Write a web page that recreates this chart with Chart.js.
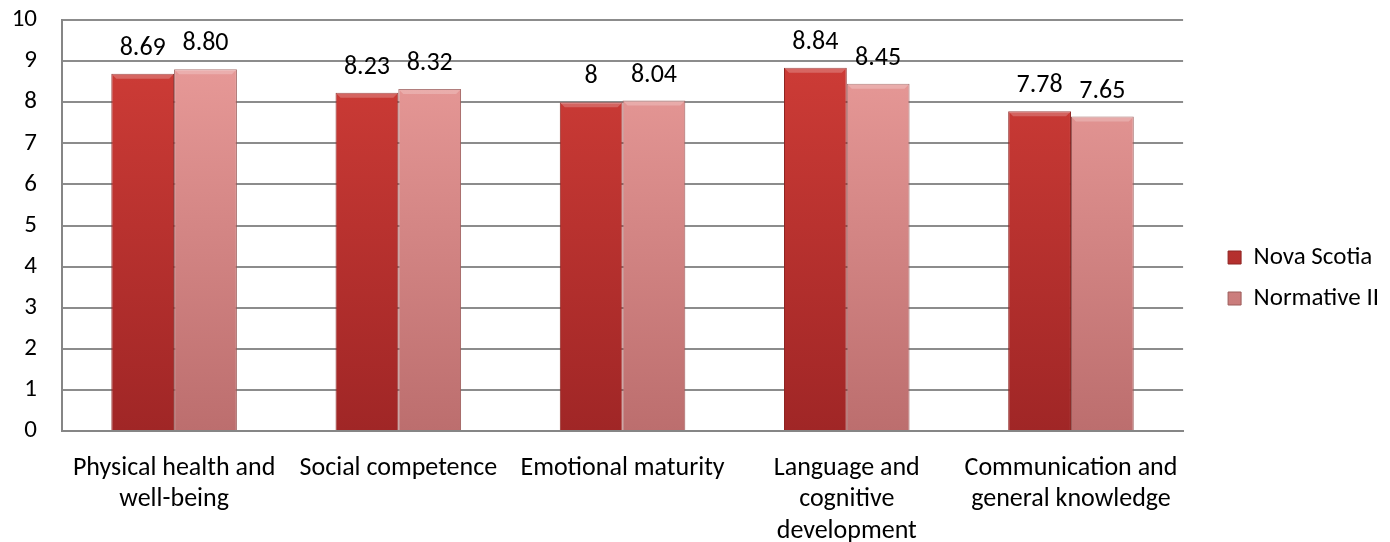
<!DOCTYPE html>
<html>
<head>
<meta charset="utf-8">
<script src="https://cdn.jsdelivr.net/npm/chart.js@4/dist/chart.umd.min.js"></script>
<style>
  html, body { margin: 0; padding: 0; background: #fff; }
  #wrap { width: 1390px; height: 542px; }
</style>
</head>
<body>
<div id="wrap"><canvas id="c" width="1390" height="542"></canvas></div>
<script>
var categories = [
    ['Physical health and', 'well-being'],
    'Social competence',
    'Emotional maturity',
    ['Language and', 'cognitive', 'development'],
    ['Communication and', 'general knowledge']
];
var novaScotia = [8.69, 8.23, 8, 8.84, 7.78];
var normativeII = [8.80, 8.32, 8.04, 8.45, 7.65];
var novaScotiaLabels = ['8.69', '8.23', '8', '8.84', '7.78'];
var normativeIILabels = ['8.80', '8.32', '8.04', '8.45', '7.65'];
var yTicks = [0, 1, 2, 3, 4, 5, 6, 7, 8, 9, 10];

var fontFamily = "Carlito, 'Open Sans', sans-serif";

// vertical shading like the office bevel bars
function shade(top, bottom, flat) {
    return function (c) {
        var area = c.chart.chartArea;
        if (!area) return flat;
        var g = c.chart.ctx.createLinearGradient(0, area.top, 0, area.bottom);
        g.addColorStop(0, top);
        g.addColorStop(1, bottom);
        return g;
    };
}

// legend sits further from the plot than chart.js puts it
var legendGap = {
    id: 'legendGap',
    afterInit: function (chart) {
        var legend = chart.legend;
        var fit = legend.fit;
        var draw = legend.draw;
        legend.fit = function () {
            fit.call(this);
            this.width += 20;
        };
        legend.draw = function () {
            var ctx = this.ctx;
            ctx.save();
            ctx.translate(29, -3);
            draw.call(this);
            ctx.restore();
        };
    }
};

// writes the value above each bar, plus a light strip on the bar top
var valueLabels = {
    id: 'valueLabels',
    afterDatasetsDraw: function (chart) {
        var ctx = chart.ctx;
        ctx.save();
        chart.data.datasets.forEach(function (ds, i) {
            chart.getDatasetMeta(i).data.forEach(function (bar) {
                var half = bar.width / 2;
                ctx.fillStyle = 'rgba(255,255,255,0.22)';
                ctx.beginPath();
                ctx.moveTo(bar.x - half, bar.y);
                ctx.lineTo(bar.x + half, bar.y);
                ctx.lineTo(bar.x + half - 5, bar.y + 5);
                ctx.lineTo(bar.x - half + 5, bar.y + 5);
                ctx.closePath();
                ctx.fill();
            });
        });
        ctx.font = '26px ' + fontFamily;
        ctx.fillStyle = '#000';
        ctx.textAlign = 'center';
        ctx.textBaseline = 'alphabetic';
        chart.data.datasets.forEach(function (ds, i) {
            chart.getDatasetMeta(i).data.forEach(function (bar, j) {
                ctx.fillText(ds.labelsText[j], bar.x, bar.y - 19);
            });
        });
        ctx.restore();
    }
};

new Chart(document.getElementById('c'), {
    type: 'bar',
    data: {
        labels: categories,
        datasets: [{
            label: 'Nova Scotia',
            data: novaScotia,
            labelsText: novaScotiaLabels,
            backgroundColor: shade('#d23e38', '#a02626', '#c63a33'),
            borderColor: '#8e2422',
            borderWidth: 1
        }, {
            label: 'Normative II',
            data: normativeII,
            labelsText: normativeIILabels,
            backgroundColor: shade('#ec9e9c', '#bc6e6e', '#e39795'),
            borderColor: '#9c5c5a',
            borderWidth: 1
        }]
    },
    options: {
        responsive: false,
        animation: false,
        layout: { padding: { left: 0, right: 10, top: 20, bottom: 0 } },
        datasets: {
            bar: { categoryPercentage: 0.56, barPercentage: 1 }
        },
        plugins: {
            legend: {
                position: 'right',
                labels: {
                    font: { family: fontFamily, size: 25 },
                    color: '#000',
                    boxWidth: 13,
                    boxHeight: 13,
                    padding: 16
                }
            },
            tooltip: { enabled: false }
        },
        scales: {
            x: {
                afterFit: function (axis) {
                    axis.height = 111;
                },
                grid: { display: false, drawTicks: false },
                border: { color: '#868686', width: 2 },
                ticks: {
                    color: '#000',
                    font: { family: fontFamily, size: 26, lineHeight: 1.2 },
                    padding: 22,
                    maxRotation: 0,
                    autoSkip: false
                }
            },
            y: {
                min: 0,
                max: 10,
                afterBuildTicks: function (axis) {
                    axis.ticks = yTicks.map(function (v) { return { value: v }; });
                },
                afterFit: function (axis) {
                    axis.width = 62;
                    axis.paddingTop = 0;
                    axis.paddingBottom = 0;
                },
                grid: { color: '#8c8c8c', lineWidth: 2, drawTicks: false },
                border: { color: '#868686', width: 2 },
                ticks: {
                    color: '#000',
                    font: { family: fontFamily, size: 25 },
                    padding: 25
                }
            }
        }
    },
    plugins: [valueLabels, legendGap]
});
</script>
</body>
</html>
